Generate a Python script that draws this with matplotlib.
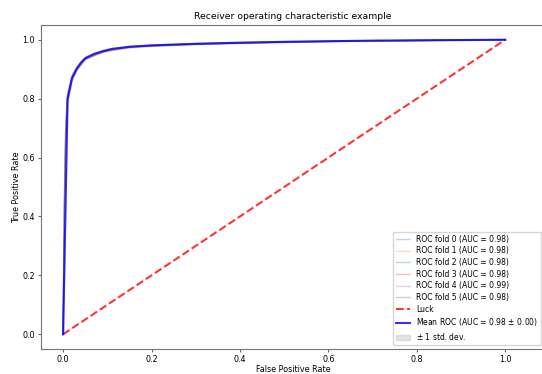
import numpy as np
import matplotlib.pyplot as plt

# mean ROC (interpolated on the mean fpr grid)
mean_fpr = [0.0, 0.0101, 0.0202, 0.0303, 0.0404, 0.0505, 0.0707, 0.0909, 0.1111,
            0.1515, 0.2020, 0.3030, 0.4040, 0.5051, 0.6061, 0.7071, 0.8081, 0.9091, 1.0]
mean_tpr = [0.0, 0.80, 0.87, 0.90, 0.922, 0.937, 0.952, 0.961, 0.969,
            0.976, 0.981, 0.986, 0.990, 0.993, 0.995, 0.997, 0.998, 0.999, 1.0]
std_tpr = [0.0, 0.012, 0.008, 0.006, 0.005, 0.004, 0.004, 0.003, 0.003,
           0.003, 0.002, 0.002, 0.002, 0.001, 0.001, 0.001, 0.001, 0.0, 0.0]

# individual folds (very close to the mean)
fold_fpr = [0.0, 0.003, 0.006, 0.0101, 0.0202, 0.0303, 0.0505, 0.0909, 0.1515, 0.3030, 0.6061, 1.0]
fold_tpr = [
    [0.0, 0.45, 0.70, 0.81, 0.875, 0.903, 0.940, 0.963, 0.977, 0.987, 0.995, 1.0],
    [0.0, 0.42, 0.68, 0.79, 0.866, 0.897, 0.934, 0.959, 0.975, 0.985, 0.994, 1.0],
    [0.0, 0.44, 0.69, 0.80, 0.870, 0.900, 0.937, 0.961, 0.976, 0.986, 0.995, 1.0],
    [0.0, 0.40, 0.66, 0.78, 0.862, 0.895, 0.933, 0.958, 0.974, 0.985, 0.994, 1.0],
    [0.0, 0.48, 0.72, 0.82, 0.880, 0.907, 0.942, 0.965, 0.978, 0.988, 0.996, 1.0],
    [0.0, 0.43, 0.69, 0.80, 0.869, 0.899, 0.936, 0.960, 0.976, 0.986, 0.995, 1.0],
]
fold_auc = [0.98, 0.98, 0.98, 0.98, 0.99, 0.98]
mean_auc = 0.98
std_auc = 0.00

fig = plt.figure(figsize=(5.42, 3.74), dpi=100)
ax = fig.add_axes([0.0756, 0.0668, 0.93, 0.8664])

for i in range(len(fold_tpr)):
    ax.plot(fold_fpr, fold_tpr[i], lw=1, alpha=0.3,
            label='ROC fold %d (AUC = %0.2f)' % (i, fold_auc[i]))

ax.plot([0, 1], [0, 1], linestyle='--', lw=1.5, color='r', label='Luck', alpha=.8)

ax.plot(mean_fpr, mean_tpr, color='b',
        label=r'Mean ROC (AUC = %0.2f $\pm$ %0.2f)' % (mean_auc, std_auc),
        lw=1.5, alpha=.8)

upper = np.minimum(np.array(mean_tpr) + np.array(std_tpr), 1)
lower = np.maximum(np.array(mean_tpr) - np.array(std_tpr), 0)
ax.fill_between(mean_fpr, lower, upper, color='grey', alpha=.2,
                label=r'$\pm$ 1 std. dev.')

ax.set_xlim([-0.05, 1.09])
ax.set_ylim([-0.05, 1.05])
ax.set_xticks([0.0, 0.2, 0.4, 0.6, 0.8, 1.0])
ax.set_yticks([0.0, 0.2, 0.4, 0.6, 0.8, 1.0])
ax.tick_params(labelsize=5.8, length=2.5, pad=2, color='0.4')
for s in ax.spines.values():
    s.set_color('0.45')
ax.set_xlabel('False Positive Rate', fontsize=5.8, labelpad=0.5)
ax.set_ylabel('True Positive Rate', fontsize=5.8, labelpad=1)
ax.set_title('Receiver operating characteristic example', fontsize=6.7, pad=4)
ax.legend(loc="lower right", fontsize=5.5, handlelength=1.8, labelspacing=0.35)

fig.savefig('out.png', dpi=100)
